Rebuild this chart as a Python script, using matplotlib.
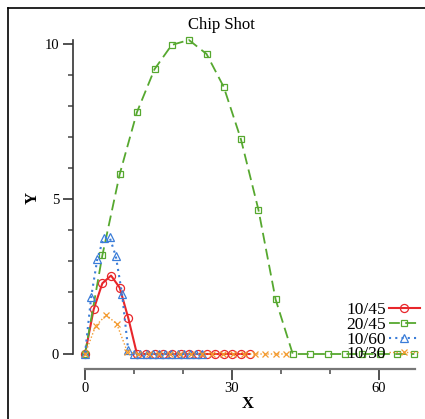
import numpy as np
import matplotlib
matplotlib.use("Agg")
import matplotlib.pyplot as plt
from matplotlib.lines import Line2D

plt.rcParams.update({'font.family': 'Liberation Serif', 'font.size': 10})

# 10/45
x_1045 = [0, 1.77, 3.54, 5.31, 7.08, 8.85, 10.6, 12.4, 14.2, 15.9, 17.7, 19.5, 21.2,
          23.0, 24.8, 26.5, 28.3, 30.1, 31.8, 33.6]
y_1045 = [0, 1.44, 2.28, 2.53, 2.14, 1.15, 0, 0, 0, 0, 0, 0, 0, 0, 0, 0, 0, 0, 0, 0]

# 20/45
x_2045 = [0, 3.54, 7.08, 10.6, 14.2, 17.7, 21.2, 24.8, 28.3, 31.8, 35.4, 38.9, 42.4,
          46.0, 49.5, 53.1, 56.6, 60.2, 63.7, 67.2]
y_2045 = [0, 3.18, 5.8, 7.8, 9.19, 9.97, 10.13, 9.68, 8.62, 6.94, 4.65, 1.76, 0,
          0, 0, 0, 0, 0, 0, 0]

# 10/60
x_1060 = [0, 1.26, 2.52, 3.78, 5.04, 6.3, 7.56, 8.82, 10.1, 11.3, 12.6, 13.9, 15.1,
          16.4, 17.6, 18.9, 20.2, 21.4, 22.7, 23.9]
y_1060 = [0, 1.84, 3.07, 3.73, 3.76, 3.15, 1.94, 0.12, 0, 0, 0, 0, 0, 0, 0, 0, 0, 0, 0, 0]

# 10/30
x_1030 = [0, 2.16, 4.32, 6.48, 8.64, 10.8, 13.0, 15.1, 17.3, 19.4, 21.6, 23.8, 25.9,
          28.1, 30.2, 32.4, 34.6, 36.7, 38.9, 41.0]
y_1030 = [0, 0.9, 1.26, 0.97, 0.07, 0, 0, 0, 0, 0, 0, 0, 0, 0, 0, 0, 0, 0, 0, 0]

W, H = 425, 419
fig = plt.figure(figsize=(W / 100, H / 100), dpi=100)
ax = fig.add_axes([70 / W, 1 - 372 / H, 350 / W, 342 / H])
ax.patch.set_visible(False)

red = '#e8262b'
green = '#56a82f'
blue = '#3b7dd8'
orange = '#f39a2e'

ax.plot(x_1045, y_1045, color=red, lw=1.5, ls='-', marker='o', ms=5.8, mfc='none',
        mew=0.9, label='10/45', clip_on=False)
ax.plot(x_2045, y_2045, color=green, lw=1.3, ls=(0, (6, 3)), marker='s', ms=5,
        mfc='none', mew=0.9, label='20/45', clip_on=False)
ax.plot(x_1060, y_1060, color=blue, lw=1.5, ls=(0, (1, 2)), marker='^', ms=5.8,
        mfc='none', mew=0.9, label='10/60', clip_on=False)
ax.plot(x_1030, y_1030, color=orange, lw=1.0, ls=(0, (1, 1.5)), marker='x', ms=4,
        mew=0.9, label='10/30', clip_on=False)

ax.set_xlim(-3.061, 68.367)
ax.set_ylim(-0.5806, 10.452)

for s in ['top', 'right']:
    ax.spines[s].set_visible(False)
ax.spines['left'].set_position(('data', -2.449))
ax.spines['left'].set_bounds(0, 10.13)
ax.spines['bottom'].set_position(('data', -0.468))
ax.spines['bottom'].set_bounds(0, 67.35)
ax.spines['left'].set_color('#333333')
ax.spines['bottom'].set_color('#777777')
ax.spines['left'].set_linewidth(1.2)
ax.spines['bottom'].set_linewidth(1.6)

ax.set_xticks([0, 30, 60])
ax.set_xticks(np.arange(0, 68, 10), minor=True)
ax.set_yticks([0, 5, 10])
ax.set_yticks(np.arange(0, 10.5, 1), minor=True)
ax.tick_params(axis='both', which='major', direction='out', labelsize=10.5, width=1.2)
ax.tick_params(axis='y', which='major', length=7, pad=3, color='#333333')
ax.tick_params(axis='x', which='major', length=8, pad=1.5, color='#333333')
ax.tick_params(axis='both', which='minor', direction='out', length=3.5, width=1.2,
               color='#555555')

ax.set_xlabel('X', fontsize=12, fontweight='bold')
ax.set_ylabel('Y', fontsize=12, fontweight='bold')
ax.xaxis.set_label_coords((248 - 70) / 350, (372 - 396) / 342)
ax.yaxis.set_label_coords((41 - 70) / 350, (372 - 198) / 342)

fig.text(221 / W, 1 - 25 / H, 'Chip Shot', ha='center', va='center', fontsize=12)

leg = ax.legend(loc='upper right', bbox_to_anchor=(420 / W, 1 - 302 / H),
                bbox_transform=fig.transFigure, frameon=False, markerfirst=False,
                fontsize=12.5, handlelength=1.8, handletextpad=0.15,
                labelspacing=-0.08, borderpad=0, borderaxespad=0)

# outer frame
fig.add_artist(Line2D([8 / W, 8 / W], [0, 1 - 8 / H], color='black', lw=1.2,
                      transform=fig.transFigure))
fig.add_artist(Line2D([8 / W, 1], [1 - 8 / H, 1 - 8 / H], color='black', lw=1.2,
                      transform=fig.transFigure))

fig.savefig('out.png', dpi=100)
